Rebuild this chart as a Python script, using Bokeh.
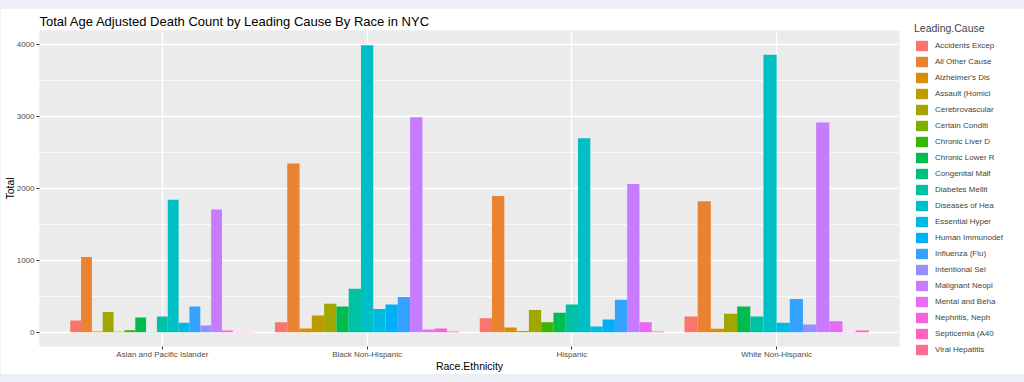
from bokeh.plotting import figure
from bokeh.models import (ColumnDataSource, Range1d, FixedTicker, Legend, LegendItem)
from bokeh.embed import file_html
from bokeh.resources import INLINE

races = ["Asian and Pacific Islander", "Black Non-Hispanic", "Hispanic", "White Non-Hispanic"]
causes = ["Accidents Excep", "All Other Cause", "Alzheimer's Dis", "Assault (Homici",
          "Cerebrovascular", "Certain Conditi", "Chronic Liver D", "Chronic Lower R",
          "Congenital Malf", "Diabetes Mellit", "Diseases of Hea", "Essential Hyper",
          "Human Immunodef", "Influenza (Flu)", "Intentional Sel", "Malignant Neopl",
          "Mental and Beha", "Nephritis, Neph", "Septicemia (A40", "Viral Hepatitis"]
colors = ["#F8766D", "#EA8331", "#D89000", "#C09B00", "#A3A500", "#7CAE00", "#39B600",
          "#00BB4E", "#00BF7D", "#00C1A3", "#00BFC4", "#00BAE0", "#00B0F6", "#35A2FF",
          "#9590FF", "#C77CFF", "#E76BF3", "#FA62DB", "#FF62BC", "#FF6C91"]

# Total per cause (None = cause absent for that group)
asian    = [163, 1045, 10, None, 279, 5, 25, 205, 3, 219, 1845, 131, None, 358, 93, 1706, None, 24, 3, 3]
black    = [139, 2347, 52, 233, 395, None, None, 358, None, 605, 3996, 321, 386, 488, None, 2992, 38, 52, 8, None]
hispanic = [195, 1896, 65, 15, 307, None, 139, 270, None, 386, 2700, 79, 177, 451, None, 2063, 139, None, 8, None]
white    = [219, 1822, 47, None, 256, None, None, 358, None, 219, 3861, 131, None, 460, 107, 2918, 153, 3, 24, None]
groups = [asian, black, hispanic, white]

y_ticks = [0, 1000, 2000, 3000, 4000]
y_minor = [500, 1500, 2500, 3500]

FONT = "Liberation Sans"

p = figure(frame_width=860, frame_height=316, output_backend="svg", toolbar_location=None,
           x_range=Range1d(0.4, 4.6), y_range=Range1d(-200, 4200),
           min_border_left=39, min_border_right=115, min_border_top=22, min_border_bottom=26,
           title="Total Age Adjusted Death Count by Leading Cause By Race in NYC")
p.background_fill_color = "#EBEBEB"
p.border_fill_color = "white"
p.outline_line_color = None

p.title.text_font = FONT
p.title.text_font_size = "13px"
p.title.text_font_style = "normal"
p.title.text_color = "black"
p.title.align = "left"
p.title.standoff = 4

# dodge positions (ggplot position_dodge, width 0.9)
xs = {i: [] for i in range(len(causes))}
ws = {i: [] for i in range(len(causes))}
vs = {i: [] for i in range(len(causes))}
for g, vals in enumerate(groups):
    present = [i for i, v in enumerate(vals) if v is not None]
    n = len(present)
    w = 0.9 / n
    for k, i in enumerate(present):
        xs[i].append(g + 1 - 0.45 + (k + 0.5) * w)
        ws[i].append(w)
        vs[i].append(vals[i])

items = []
for i, c in enumerate(causes):
    src = ColumnDataSource(dict(x=xs[i], w=ws[i], top=vs[i]))
    r = p.vbar(x="x", width="w", top="top", bottom=0, source=src,
               fill_color=colors[i], line_color=None)
    items.append(LegendItem(label=c, renderers=[r]))

# axes
p.xaxis.ticker = FixedTicker(ticks=[1, 2, 3, 4])
p.xaxis.major_label_overrides = {i + 1: r for i, r in enumerate(races)}
p.yaxis.ticker = FixedTicker(ticks=y_ticks, minor_ticks=y_minor)
for ax in (p.xaxis[0], p.yaxis[0]):
    ax.axis_line_color = None
    ax.major_tick_out = 3
    ax.major_tick_in = 0
    ax.minor_tick_out = 0
    ax.minor_tick_in = 0
    ax.major_tick_line_color = "#333333"
    ax.major_label_text_font = FONT
    ax.major_label_text_font_size = "8px"
    ax.major_label_text_color = "#4D4D4D"
    ax.axis_label_text_font = FONT
    ax.axis_label_text_font_size = "10.5px"
    ax.axis_label_text_font_style = "normal"
    ax.axis_label_text_color = "black"
p.xaxis.axis_label = "Race.Ethnicity"
p.yaxis.axis_label = "Total"
p.xaxis.major_label_standoff = 0
p.xaxis.axis_label_standoff = -2
p.yaxis.major_label_standoff = 2
p.yaxis.axis_label_standoff = -2

p.xgrid.grid_line_color = "white"
p.xgrid.grid_line_width = 1.4
p.ygrid.grid_line_color = "white"
p.ygrid.grid_line_width = 1.4
p.ygrid.minor_grid_line_color = "white"
p.ygrid.minor_grid_line_width = 0.7

legend = Legend(items=items, location=(15, -10))
legend.title = "Leading.Cause"
legend.title_text_font = FONT
legend.title_text_font_size = "10.5px"
legend.title_text_font_style = "normal"
legend.title_standoff = 5
legend.label_text_font = FONT
legend.label_text_font_size = "8px"
legend.glyph_width = 15
legend.glyph_height = 13
legend.label_height = 13
legend.label_width = 60
legend.spacing = 3
legend.label_standoff = 6
legend.padding = 0
legend.margin = 0
legend.border_line_color = None
legend.background_fill_alpha = 0
p.add_layout(legend, "right")

html = file_html(p, INLINE, title="plot")
html = html.replace("</head>", "<style>html,body{margin:0 !important;padding:0 !important;background:#ECEFF5 !important;}body{padding-top:8px !important;}</style></head>", 1)
open("out.html", "w").write(html)
